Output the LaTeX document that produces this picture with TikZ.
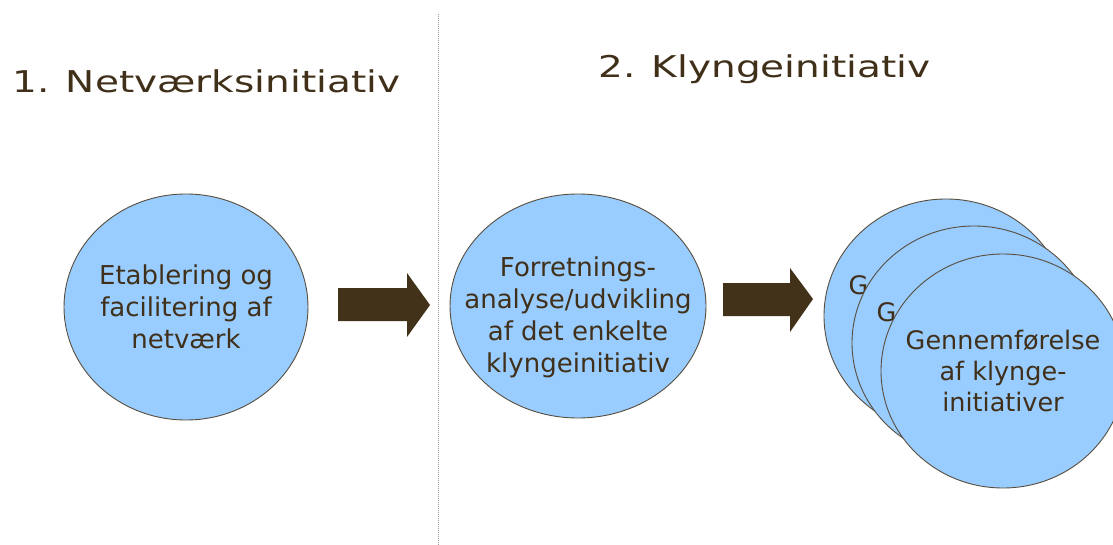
\documentclass[tikz,border=0pt]{standalone}
\usepackage{fontspec}
\usepackage{graphicx}
\setmainfont{DejaVu Sans}
\usetikzlibrary{shapes.geometric}
\definecolor{txtbrown}{RGB}{64,48,26}
\definecolor{arrbrown}{RGB}{66,50,26}
\definecolor{bubblefill}{RGB}{153,204,255}
\definecolor{bubbleline}{RGB}{88,78,62}
\newcommand{\wide}[1]{\scalebox{1.3}[1]{#1}}
\tikzset{
  bubble/.style={ellipse, draw=bubbleline, line width=0.9pt, fill=bubblefill,
    inner sep=-300pt, align=center, text=txtbrown,
    font=\fontsize{26}{32}\selectfont},
  stackbubble/.style={bubble, minimum width=244pt, minimum height=234pt,
    font=\fontsize{25.5}{31}\selectfont},
  title/.style={anchor=base west, inner sep=0pt, text=txtbrown,
    font=\fontsize{30}{36}\selectfont},
  blockarrow/.style={fill=arrbrown},
  divider/.style={draw=gray!80, line width=1pt, dash pattern=on 1pt off 1pt}
}
\begin{document}
\begin{tikzpicture}[x=1pt,y=-1pt]
\useasboundingbox (0,0) rectangle (1113,545);
\fill[white] (0,0) rectangle (1113,545);
% divider
\coordinate (dtop) at (438,14);
\coordinate (dbot) at (438,545);
\draw[divider] (dtop) -- (dbot);
% titles
\node[title] (t1) at (12,93) {\wide{1. Netværksinitiativ}};
\node[title] (t2) at (598,78) {\wide{2. Klyngeinitiativ}};
% circles
\node[bubble, minimum width=244pt, minimum height=226pt] (c1) at (186,307)
  {Etablering og\\facilitering af\\netværk};
\node[bubble, minimum width=256pt, minimum height=224pt, text height=138pt] (c2) at (578,306)
  {Forretnings-\\analyse/udvikling\\af det enkelte\\klyngeinitiativ};
\node[stackbubble] (c3a) at (946,316)
  {Gennemførelse\\af klynge-\\initiativer};
\node[stackbubble] (c3b) at (974,343)
  {Gennemførelse\\af klynge-\\initiativer};
\node[stackbubble] (c3c) at (1003,371)
  {Gennemførelse\\af klynge-\\initiativer};
% block arrows
\fill[blockarrow] (338,288) -- (407,288) -- (407,273) -- (430,305) -- (407,337)
  -- (407,321) -- (338,321) -- cycle;
\fill[blockarrow] (723,283) -- (790,283) -- (790,268) -- (813,299) -- (790,332)
  -- (790,316) -- (723,316) -- cycle;
\end{tikzpicture}
\end{document}
